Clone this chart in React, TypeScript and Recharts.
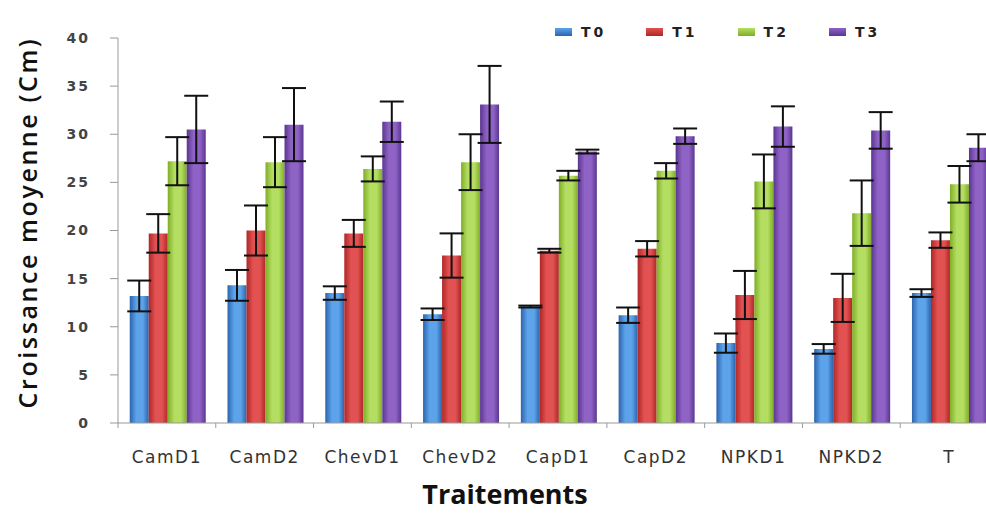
import { BarChart, Bar, XAxis, YAxis, ErrorBar, Legend } from 'recharts'

const categories = ['CamD1', 'CamD2', 'ChevD1', 'ChevD2', 'CapD1', 'CapD2', 'NPKD1', 'NPKD2', 'T']
const t0 = [13.2, 14.3, 13.5, 11.3, 12.1, 11.2, 8.3, 7.7, 13.5]
const t1 = [19.7, 20.0, 19.7, 17.4, 17.9, 18.1, 13.3, 13.0, 19.0]
const t2 = [27.2, 27.1, 26.4, 27.1, 25.7, 26.2, 25.1, 21.8, 24.8]
const t3 = [30.5, 31.0, 31.3, 33.1, 28.2, 29.8, 30.8, 30.4, 28.6]
const e0 = [1.6, 1.6, 0.7, 0.6, 0.1, 0.8, 1.0, 0.5, 0.4]
const e1 = [2.0, 2.6, 1.4, 2.3, 0.2, 0.8, 2.5, 2.5, 0.8]
const e2 = [2.5, 2.6, 1.3, 2.9, 0.5, 0.8, 2.8, 3.4, 1.9]
const e3 = [3.5, 3.8, 2.1, 4.0, 0.2, 0.8, 2.1, 1.9, 1.4]
const yTicks = [0, 5, 10, 15, 20, 25, 30, 35, 40]

const series = [
  { key: 't0', err: 'e0', name: 'T0', dark: '#2a64ad', light: '#5da3ea' },
  { key: 't1', err: 'e1', name: 'T1', dark: '#b02626', light: '#e25252' },
  { key: 't2', err: 'e2', name: 'T2', dark: '#7fae26', light: '#b4de62' },
  { key: 't3', err: 'e3', name: 'T3', dark: '#5a3690', light: '#8f62c6' },
]

const data = categories.map((c, i) => ({
  name: c,
  t0: t0[i], t1: t1[i], t2: t2[i], t3: t3[i],
  e0: e0[i], e1: e1[i], e2: e2[i], e3: e3[i],
}))

const font = '"DejaVu Sans", sans-serif'
const TICK_SIZE = 6
const TICK_MARGIN = 22

// category label + little boundary tick on the left of each band (like the original)
function CategoryTick(props: any) {
  const { x, y, payload } = props
  const half = payload?.offset ?? 0
  const axisY = y - TICK_SIZE - TICK_MARGIN
  return (
    <g>
      <line x1={x - half} x2={x - half} y1={axisY} y2={axisY + 5} stroke="#999" />
      <text
        x={x}
        y={y}
        dy="0.71em"
        textAnchor="middle"
        fill="#333"
        fontSize={17}
        fontFamily={font}
        letterSpacing={1.5}
      >
        {payload.value}
      </text>
    </g>
  )
}

function renderLegend() {
  return (
    <div style={{ display: 'flex', gap: 40, fontFamily: font, fontSize: 14, fontWeight: 600, letterSpacing: 3, color: '#222' }}>
      {series.map((s) => (
        <div key={s.key} style={{ display: 'flex', alignItems: 'center', gap: 9 }}>
          <span
            style={{
              display: 'inline-block', width: 17, height: 8,
              background: `linear-gradient(${s.light}, ${s.dark})`,
            }}
          />
          <span>{s.name}</span>
        </div>
      ))}
    </div>
  )
}

export default function App() {
  return (
    <div style={{ position: 'absolute', left: 0, top: 0, background: '#fff', overflow: 'hidden', width: 986, height: 513 }}>
      <BarChart
        width={998}
        height={513}
        data={data}
        margin={{ top: 22, right: 0, left: 0, bottom: 0 }}
        barCategoryGap="12%"
        barGap={0}
      >
        <defs>
          {series.map((s) => (
            <linearGradient key={s.key} id={`g-${s.key}`} x1="0" y1="0" x2="1" y2="0">
              <stop offset="0%" stopColor={s.dark} />
              <stop offset="35%" stopColor={s.light} />
              <stop offset="70%" stopColor={s.light} />
              <stop offset="100%" stopColor={s.dark} />
            </linearGradient>
          ))}
        </defs>
        <XAxis
          dataKey="name"
          height={90}
          tickLine={false}
          tickSize={TICK_SIZE}
          tickMargin={TICK_MARGIN}
          axisLine={{ stroke: '#999' }}
          tick={<CategoryTick />}
          interval={0}
          label={{
            value: 'Traitements',
            position: 'insideBottom',
            offset: 9,
            dx: -53,
            style: { fill: '#111', fontSize: 27, fontWeight: 700, fontFamily: '"Open Sans", sans-serif' },
          }}
        />
        <YAxis
          width={118}
          domain={[0, 40]}
          ticks={yTicks}
          tickSize={8}
          tickMargin={20}
          axisLine={{ stroke: '#999' }}
          tickLine={{ stroke: '#999' }}
          tick={{ fill: '#444', fontSize: 14, fontWeight: 700, fontFamily: font, letterSpacing: 2 }}
          label={{
            value: 'Croissance moyenne (Cm)',
            angle: -90,
            position: 'insideLeft',
            offset: 28,
            dy: -8,
            style: {
              textAnchor: 'middle', fill: '#111', fontSize: 25, fontWeight: 600,
              fontFamily: '"Open Sans", sans-serif', letterSpacing: 2.6,
            },
          }}
        />
        <Legend
          verticalAlign="top"
          content={renderLegend}
          wrapperStyle={{ top: 24, left: 555, width: 'auto' }}
        />
        {series.map((s) => (
          <Bar key={s.key} dataKey={s.key} name={s.name} fill={`url(#g-${s.key})`} isAnimationActive={false}>
            <ErrorBar dataKey={s.err} width={12} stroke="#111" strokeWidth={2} />
          </Bar>
        ))}
      </BarChart>
    </div>
  )
}
